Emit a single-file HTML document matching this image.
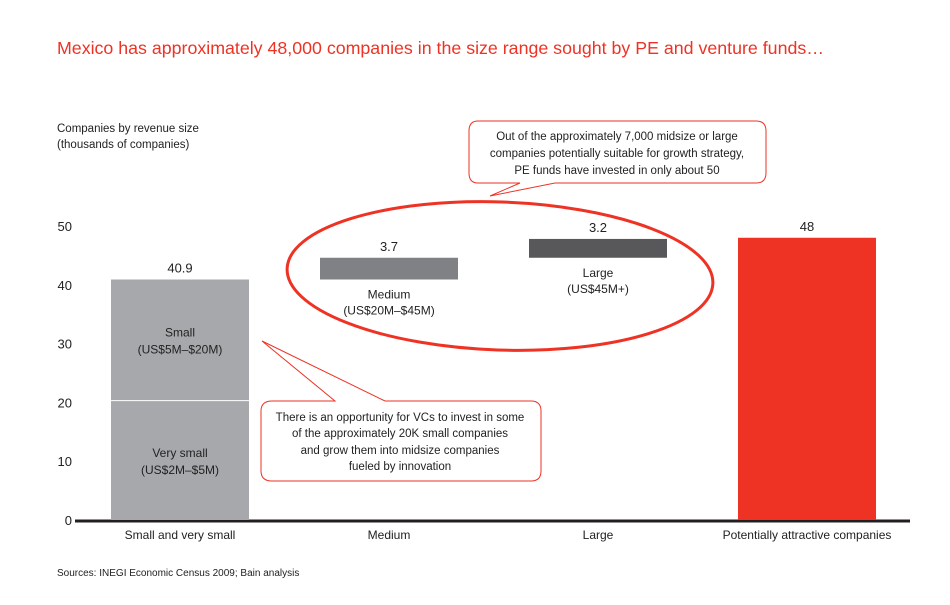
<!DOCTYPE html>
<html><head><meta charset="utf-8"><style>
body{margin:0;background:#fff;font-family:"Liberation Sans",sans-serif;}
svg text{font-family:"Liberation Sans",sans-serif;}
</style></head><body>
<svg width="950" height="600" xmlns="http://www.w3.org/2000/svg">
<text x="57" y="54" font-size="17.8" fill="#ee3224">Mexico has approximately 48,000 companies in the size range sought by PE and venture funds…</text>
<text x="57" y="132" font-size="11.5" fill="#222">Companies by revenue size</text>
<text x="57" y="148" font-size="11.5" fill="#222">(thousands of companies)</text>
<g id="axis"></g>
<g id="bars"></g>
<ellipse cx="500" cy="276" rx="213" ry="74" fill="none" stroke="#ee3224" stroke-width="3" transform="rotate(2 500 276)"/>
<g>
<path d="M478,121 H756 Q766,121 766,131 V173 Q766,183 756,183 H555 L490,196 L520,183 H478 Q469,183 469,173 V131 Q469,121 478,121 Z" fill="#fff" stroke="#ee3224" stroke-width="1"/>
<text x="617" y="140" font-size="11.5" text-anchor="middle" fill="#222">Out of the approximately 7,000 midsize or large</text>
<text x="617" y="157" font-size="11.5" text-anchor="middle" fill="#222">companies potentially suitable for growth strategy,</text>
<text x="617" y="174" font-size="11.5" text-anchor="middle" fill="#222">PE funds have invested in only about 50</text>
</g>
<g>
<path d="M272,401 H335 L262,341 L385,401 H531 Q541,401 541,411 V471 Q541,481 531,481 H272 Q261,481 261,471 V411 Q261,401 272,401 Z" fill="#fff" stroke="#ee3224" stroke-width="1"/>
<text x="400" y="421" font-size="11.5" text-anchor="middle" fill="#222">There is an opportunity for VCs to invest in some</text>
<text x="400" y="437" font-size="11.5" text-anchor="middle" fill="#222">of the approximately 20K small companies</text>
<text x="400" y="454" font-size="11.5" text-anchor="middle" fill="#222">and grow them into midsize companies</text>
<text x="400" y="470" font-size="11.5" text-anchor="middle" fill="#222">fueled by innovation</text>
</g>
<text x="57" y="576" font-size="10" fill="#222">Sources: INEGI Economic Census 2009; Bain analysis</text>
</svg>
<script>
const categories=["Small and very small","Medium","Large","Potentially attractive companies"];
const baseValues=[0,40.9,44.6,0];
const segValues=[[20.3,20.6],[3.7],[3.2],[48]];
const totals=["40.9","3.7","3.2","48"];
const yTicks=[0,10,20,30,40,50];
const NS="http://www.w3.org/2000/svg";
const y=v=>520-v*5.88;
const xc=i=>180+i*209;
const bw=138;
const colors=[["#a7a8ab","#a7a8ab"],["#808184"],["#58585a"],["#ee3224"]];
const axis=document.getElementById('axis'),bars=document.getElementById('bars');
function mk(tag,attrs,parent,txt){const e=document.createElementNS(NS,tag);for(const k in attrs)e.setAttribute(k,attrs[k]);if(txt!==undefined)e.textContent=txt;parent.appendChild(e);return e;}
yTicks.forEach(t=>{const e=mk('text',{x:72,y:y(t)+5,'font-size':13,'text-anchor':'end',fill:'#222'},axis,String(t));

});
categories.forEach((c,i)=>{let acc=baseValues[i];
segValues[i].forEach((v,j)=>{const r=mk('rect',{x:xc(i)-bw/2,y:y(acc+v),width:bw,height:y(acc)-y(acc+v),fill:colors[i][j]},bars);


acc+=v;});
if(i===0){const l=mk('line',{x1:xc(0)-bw/2,x2:xc(0)+bw/2,y1:y(20.3),y2:y(20.3),stroke:'#fff','stroke-width':1},bars);

}
const t=mk('text',{x:xc(i),y:y(acc)-7,'font-size':13,'text-anchor':'middle',fill:'#222'},bars,totals[i]);


const cl=mk('text',{x:xc(i),y:539,'font-size':12,'text-anchor':'middle',fill:'#222'},bars,c);

});
const inner=[[0,"Very small","(US$2M–$5M)",10],[0,"Small","(US$5M–$20M)",30.5]];
inner.forEach(a=>{const t1=mk('text',{x:xc(a[0]),y:y(a[3])-4,'font-size':12,'text-anchor':'middle',fill:'#222'},bars,a[1]);


const t2=mk('text',{x:xc(a[0]),y:y(a[3])+13,'font-size':12,'text-anchor':'middle',fill:'#222'},bars,a[2]);

});
const below=[[1,"Medium","(US$20M–$45M)"],[2,"Large","(US$45M+)"]];
below.forEach(a=>{const b=y(baseValues[a[0]]);
const t1=mk('text',{x:xc(a[0]),y:b+19,'font-size':12,'text-anchor':'middle',fill:'#222'},bars,a[1]);


const t2=mk('text',{x:xc(a[0]),y:b+35,'font-size':12,'text-anchor':'middle',fill:'#222'},bars,a[2]);

});
const ax=mk('line',{x1:75,x2:910,y1:y(0)+1,y2:y(0)+1,stroke:'#231f20','stroke-width':3},axis);


</script>
</body></html>
